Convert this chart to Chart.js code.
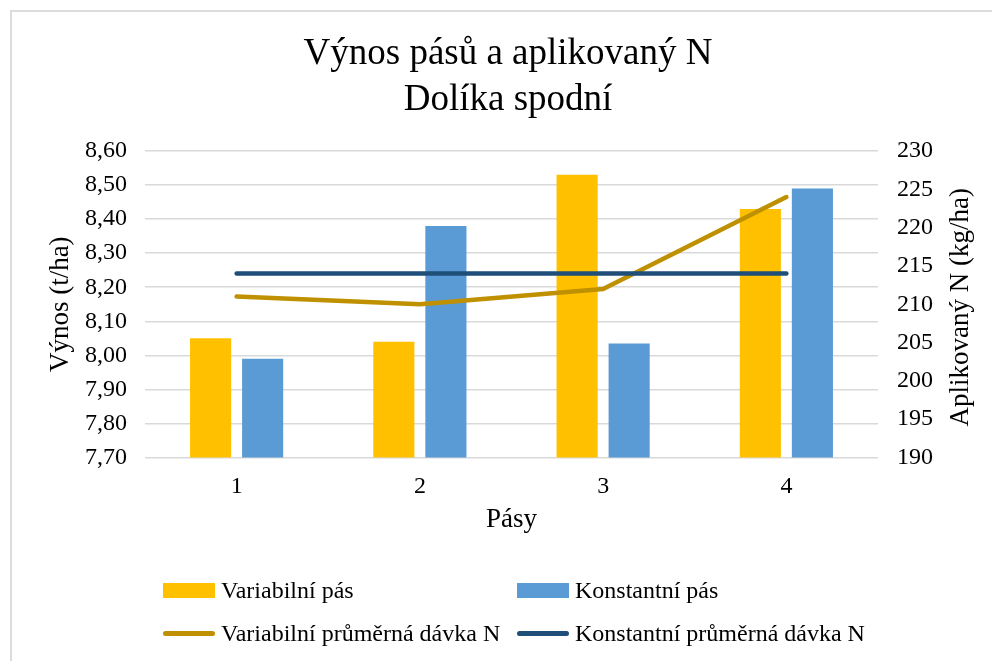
<!DOCTYPE html>
<html>
<head>
<meta charset="utf-8">
<script src="https://cdn.jsdelivr.net/npm/chart.js@4/dist/chart.umd.min.js"></script>
<style>
  html, body { margin: 0; padding: 0; background: #fff; }
  #wrap { position: relative; width: 992px; height: 661px; overflow: hidden; }
  #frame { position: absolute; left: 10px; top: 10px; width: 990px; height: 700px;
           border-left: 2px solid #dcdcdc; border-top: 2px solid #dcdcdc; box-sizing: border-box; }
  canvas { position: absolute; left: 0; top: 0; }
  .leg { position: absolute; font-family: "Liberation Serif", "Times New Roman", serif; font-size: 24px;
         color: #000; display: flex; align-items: center; white-space: nowrap; }
  .sw { display: inline-block; margin-right: 6px; }
</style>
</head>
<body>
<div id="wrap">
  <div id="frame"></div>
  <canvas id="c" width="992" height="661"></canvas>
  <div id="legend"></div>
</div>
<script>
const categories = ["1", "2", "3", "4"];
const variabilniPas = [8.05, 8.04, 8.53, 8.43];
const konstantniPas = [7.99, 8.38, 8.035, 8.49];
const variabilniDavka = [211, 210, 212, 224];
const konstantniDavka = [214, 214, 214, 214];
const seriesNames = ["Variabilní pás", "Konstantní pás", "Variabilní průměrná dávka N", "Konstantní průměrná dávka N"];
const titleLines = ["Výnos pásů a aplikovaný N", "Dolíka spodní"];
const leftTitle = "Výnos (t/ha)";
const rightTitle = "Aplikovaný N (kg/ha)";
const xTitle = "Pásy";

const FONT = "'Liberation Serif', 'Times New Roman', serif";
const colors = ["#FFC000", "#5B9BD5", "#BF9000", "#1F4E79"];

const rightTitlePlugin = {
  id: 'rightTitle',
  afterDraw(chart) {
    const ctx = chart.ctx;
    const area = chart.chartArea;
    ctx.save();
    ctx.translate(961, (area.top + area.bottom) / 2 + 3);
    ctx.rotate(-Math.PI / 2);
    ctx.font = "27px " + FONT;
    ctx.fillStyle = "#000";
    ctx.textAlign = "center";
    ctx.textBaseline = "middle";
    ctx.fillText(rightTitle, 0, 0);
    ctx.restore();
  }
};

new Chart(document.getElementById('c'), {
  type: 'bar',
  data: {
    labels: categories,
    datasets: [
      { type: 'line', label: seriesNames[2], data: variabilniDavka, yAxisID: 'y1',
        borderColor: colors[2], backgroundColor: colors[2], borderWidth: 4.5,
        pointRadius: 0, borderCapStyle: 'round', borderJoinStyle: 'round', order: 1 },
      { type: 'line', label: seriesNames[3], data: konstantniDavka, yAxisID: 'y1',
        borderColor: colors[3], backgroundColor: colors[3], borderWidth: 4.5,
        pointRadius: 0, borderCapStyle: 'round', borderJoinStyle: 'round', order: 0 },
      { label: seriesNames[0], data: variabilniPas, yAxisID: 'y', backgroundColor: colors[0],
        categoryPercentage: 0.568, barPercentage: 0.79, order: 2 },
      { label: seriesNames[1], data: konstantniPas, yAxisID: 'y', backgroundColor: colors[1],
        categoryPercentage: 0.568, barPercentage: 0.79, order: 3 }
    ]
  },
  options: {
    responsive: false,
    animation: false,
    layout: { padding: { left: 41, right: 17, top: 0, bottom: 121 } },
    plugins: {
      legend: { display: false },
      tooltip: { enabled: false },
      title: {
        display: true, text: titleLines, color: '#000',
        font: { family: FONT, size: 37, weight: 'normal', lineHeight: 1.25 },
        padding: { top: 31, bottom: 27.5 }
      }
    },
    scales: {
      x: {
        grid: { display: false, drawTicks: false },
        border: { display: false },
        ticks: { color: '#000', font: { family: FONT, size: 24 }, padding: 15 },
        title: { display: true, text: xTitle, color: '#000', font: { family: FONT, size: 27 },
                 padding: { top: 2, bottom: 4 } },
        afterFit: s => { s.height = 82.5; }
      },
      y: {
        position: 'left', min: 7.7, max: 8.6,
        grid: { color: '#d9d9d9', lineWidth: 1.5, drawTicks: false },
        border: { display: false },
        ticks: { stepSize: 0.1, color: '#000', font: { family: FONT, size: 24 }, padding: 18,
                 callback: v => v.toFixed(2).replace('.', ',') },
        title: { display: true, text: leftTitle, color: '#000', font: { family: FONT, size: 27 },
                 padding: { top: 4, bottom: 4 } },
        afterFit: s => { s.width = 104; }
      },
      y1: {
        position: 'right', min: 190, max: 230,
        grid: { display: false, drawTicks: false },
        border: { display: false },
        ticks: { stepSize: 5, color: '#000', font: { family: FONT, size: 24 }, padding: 19 },
        afterFit: s => { s.width = 97; }
      }
    }
  },
  plugins: [rightTitlePlugin]
});

// HTML legend (2 x 2 grid)
const legendItems = [
  { name: seriesNames[0], color: colors[0], kind: 'box', x: 163, y: 590 },
  { name: seriesNames[1], color: colors[1], kind: 'box', x: 517, y: 590 },
  { name: seriesNames[2], color: colors[2], kind: 'line', x: 163, y: 633 },
  { name: seriesNames[3], color: colors[3], kind: 'line', x: 517, y: 633 }
];
const lg = document.getElementById('legend');
legendItems.forEach(it => {
  const d = document.createElement('div');
  d.className = 'leg';
  d.style.left = it.x + 'px';
  d.style.top = (it.y - 16) + 'px';
  d.style.height = '32px';
  const s = document.createElement('span');
  s.className = 'sw';
  s.style.width = '52px';
  if (it.kind === 'box') { s.style.height = '15px'; }
  else { s.style.height = '5px'; s.style.borderRadius = '3px'; }
  s.style.background = it.color;
  d.appendChild(s);
  d.appendChild(document.createTextNode(it.name));
  lg.appendChild(d);
});
</script>
</body>
</html>
